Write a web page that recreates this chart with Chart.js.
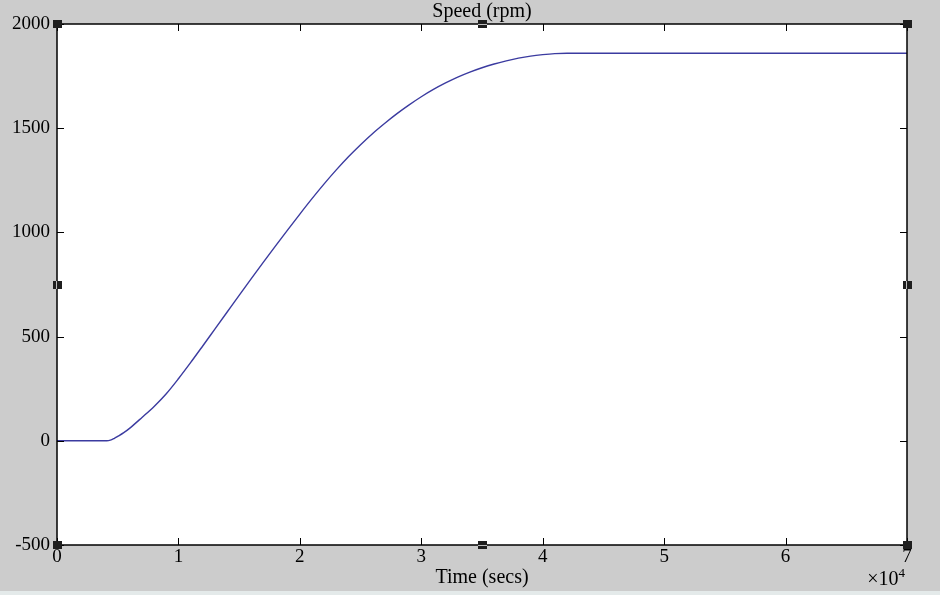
<!DOCTYPE html>
<html>
<head>
<meta charset="utf-8">
<title>Speed (rpm)</title>
<script src="https://cdn.jsdelivr.net/npm/chart.js@4.4.1/dist/chart.umd.min.js"></script>
<style>
  html, body { margin: 0; padding: 0; background: #cccccc; }
  #speed_chart { display: block; }
</style>
</head>
<body>
<canvas id="speed_chart" width="940" height="595"></canvas>
<script>
// time (secs) and speed (rpm)
const timeSecs = [0, 4100, 4400, 4700, 5000, 5500, 6000, 7000, 8000, 9000, 10000, 11000, 12000, 13000, 14000, 15000,
    16000, 17000, 18000, 19000, 20000, 21000, 22000, 23000, 24000, 25000, 26000, 27000, 28000, 29000, 30000,
    31000, 32000, 33000, 34000, 35000, 36000, 37000, 38000, 39000, 40000, 41000, 42000, 70000];
const speedRpm = [0, 0, 3, 11, 21, 39, 61, 112, 165, 226, 298, 375, 455, 536, 617, 698,
    778, 857, 935, 1012, 1088, 1162, 1233, 1300, 1363, 1421, 1475, 1524, 1570, 1612, 1651,
    1686, 1717, 1745, 1769, 1790, 1808, 1823, 1836, 1846, 1853, 1858, 1860, 1860];

const xTicks = [0, 10000, 20000, 30000, 40000, 50000, 60000, 70000];
const yTicks = [-500, 0, 500, 1000, 1500, 2000];

const chartTitle = 'Speed (rpm)';
const xTitle = 'Time (secs)';

window.addEventListener('load', function () {
    const ctx = document.getElementById('speed_chart');

    const points = timeSecs.map((t, i) => ({ x: t, y: speedRpm[i] }));

    // gray figure, white axes box, inward ticks, selection handles
    const figurePlugin = {
        id: 'figure',
        beforeDraw(chart) {
            const c = chart.ctx;
            const a = chart.chartArea;
            c.save();
            c.fillStyle = '#cccccc';
            c.fillRect(0, 0, chart.width, chart.height);
            c.fillStyle = '#e4eaea';
            c.fillRect(0, chart.height - 4, chart.width, 4);
            c.fillStyle = '#ffffff';
            c.fillRect(a.left, a.top, a.right - a.left, a.bottom - a.top);
            c.restore();
        },
        afterDraw(chart) {
            const c = chart.ctx;
            const a = chart.chartArea;
            const xs = chart.scales.x;
            const ys = chart.scales.y;
            const tl = 7;
            c.save();
            c.strokeStyle = '#000000';
            c.lineWidth = 1;
            c.beginPath();
            xTicks.forEach(v => {
                const px = Math.round(xs.getPixelForValue(v)) + 0.5;
                c.moveTo(px, a.bottom); c.lineTo(px, a.bottom - tl);
                c.moveTo(px, a.top); c.lineTo(px, a.top + tl);
            });
            yTicks.forEach(v => {
                const py = Math.round(ys.getPixelForValue(v)) + 0.5;
                c.moveTo(a.left, py); c.lineTo(a.left + tl, py);
                c.moveTo(a.right, py); c.lineTo(a.right - tl, py);
            });
            c.stroke();
            c.lineWidth = 1.5;
            c.strokeRect(a.left, a.top, a.right - a.left, a.bottom - a.top);

            // title
            c.fillStyle = '#000000';
            c.font = '20px "Liberation Serif"';
            c.textAlign = 'center';
            c.textBaseline = 'middle';
            c.fillText(chartTitle, (a.left + a.right) / 2, 12);

            // x10^4 exponent label
            c.textAlign = 'right';
            c.textBaseline = 'alphabetic';
            c.font = '13px "Liberation Serif"';
            c.fillText('4', 905, 577);
            const w4 = c.measureText('4').width;
            c.font = '20px "Liberation Serif"';
            c.fillText('\u00d710', 905 - w4, 585);

            // selection handles
            const mx = (a.left + a.right) / 2;
            const my = (a.top + a.bottom) / 2;
            const handles = [[a.left, a.top], [mx, a.top], [a.right, a.top],
                [a.left, my], [a.right, my],
                [a.left, a.bottom], [mx, a.bottom], [a.right, a.bottom]];
            handles.forEach(h => {
                c.fillStyle = '#1e1e1e';
                c.fillRect(Math.round(h[0]) - 4, Math.round(h[1]) - 4, 9, 8);
            });
            c.fillStyle = '#bdbdbd';
            c.fillRect(Math.round(mx) - 4, Math.round(a.top), 9, 1);
            c.fillRect(Math.round(mx) - 4, Math.round(a.bottom), 9, 1);
            c.fillRect(Math.round(a.left) - 1, Math.round(my) - 4, 1, 8);
            c.fillRect(Math.round(a.right) - 1, Math.round(my) - 4, 1, 8);
            c.restore();
        }
    };

    const data = {
        datasets: [{
            label: chartTitle,
            data: points,
            borderColor: '#3b3ba0',
            borderWidth: 1.4,
            pointRadius: 0,
            cubicInterpolationMode: 'monotone',
            fill: false
        }]
    };

    const options = {
        responsive: false,
        animation: false,
        layout: { padding: { top: 24, right: 33, left: 0, bottom: 0 } },
        plugins: {
            legend: { display: false },
            tooltip: { enabled: false },
            title: { display: false }
        },
        scales: {
            x: {
                type: 'linear',
                min: 0,
                max: 70000,
                afterFit: s => { s.height = 50; },
                afterBuildTicks: s => { s.ticks = xTicks.map(v => ({ value: v })); },
                grid: { display: false, drawTicks: false },
                border: { display: false },
                ticks: {
                    padding: 1,
                    color: '#000000',
                    font: { family: 'Liberation Serif', size: 19 },
                    maxRotation: 0,
                    callback: v => String(v / 10000)
                },
                title: {
                    display: true,
                    text: xTitle,
                    color: '#000000',
                    font: { family: 'Liberation Serif', size: 20 },
                    padding: { top: 0, bottom: 5 }
                }
            },
            y: {
                type: 'linear',
                min: -500,
                max: 2000,
                afterFit: s => { s.width = 57; },
                afterBuildTicks: s => { s.ticks = yTicks.map(v => ({ value: v })); },
                grid: { display: false, drawTicks: false },
                border: { display: false },
                ticks: {
                    padding: 7,
                    color: '#000000',
                    font: { family: 'Liberation Serif', size: 19 },
                    callback: v => String(v)
                }
            }
        }
    };

    new Chart(ctx, {
        type: 'line',
        data: data,
        options: options,
        plugins: [figurePlugin]
    });
});
</script>
</body>
</html>
